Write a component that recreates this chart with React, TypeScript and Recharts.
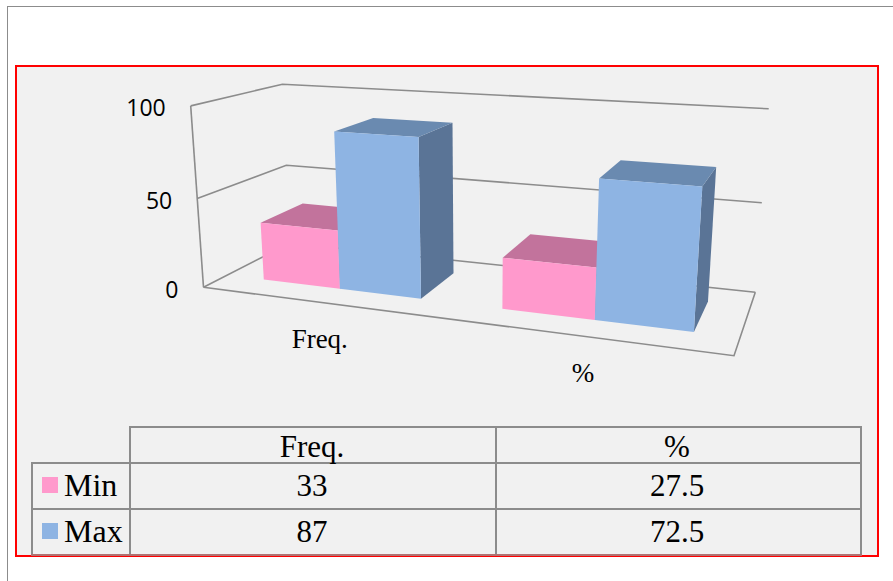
import { BarChart, Bar, XAxis, YAxis, ReferenceLine } from 'recharts';

const categories = ['Freq.', '%'];
const seriesNames = ['Min', 'Max'];
const minValues = [33, 27.5];
const maxValues = [87, 72.5];
const valueTicks = [0, 50, 100];

const tableData = categories.map((name, i) => ({ name, min: minValues[i], max: maxValues[i] }));

// flat plot rectangle handed to recharts; every mark is then projected into the 3D box
const PLOT = { left: 100, top: 100, width: 500, height: 200 };
const DEPTH_FRONT = 0.25;
const DEPTH_BACK = 0.75;
// bars sit a touch right of the exact band centres in the 3D box
const BAND_NUDGE = 0.005;

type Pt = [number, number];

// floor corners: front-left, front-right, back-right, back-left
const FLOOR: Pt[] = [[203.5, 287.3], [734, 355.7], [755.3, 292.3], [290, 243]];
// vertical vanishing point and how quickly height foreshortens towards it
const VANISH: Pt = [479, 4192];
const LIFT = -0.0444;
const ROLL = 5;

// unit square to quad homography, returned unnormalised so height can be mixed in
function quadMap(q: Pt[]) {
  const [[x0, y0], [x1, y1], [x2, y2], [x3, y3]] = q;
  const sx = x0 - x1 + x2 - x3;
  const sy = y0 - y1 + y2 - y3;
  const dx1 = x1 - x2;
  const dx2 = x3 - x2;
  const dy1 = y1 - y2;
  const dy2 = y3 - y2;
  const det = dx1 * dy2 - dx2 * dy1;
  const g = (sx * dy2 - dx2 * sy) / det;
  const h = (dx1 * sy - sx * dy1) / det;
  const a = x1 - x0 + g * x1;
  const b = x3 - x0 + h * x3;
  const d = y1 - y0 + g * y1;
  const e = y3 - y0 + h * y3;
  return (u: number, w: number) => [a * u + b * w + x0, d * u + e * w + y0, g * u + h * w + 1];
}

const floorAt = quadMap(FLOOR);

function project(u: number, w: number, v: number): Pt {
  const [nx, ny, k] = floorAt(u, w);
  const lift = v * LIFT;
  const den = k + lift;
  return [(nx + lift * VANISH[0]) / den, (ny + lift * VANISH[1]) / den + ROLL * u * v];
}

const toU = (x: number) => (x - PLOT.left) / PLOT.width;
const toV = (y: number) => (PLOT.top + PLOT.height - y) / PLOT.height;
const pts = (list: Pt[]) => list.map((p) => p.map((n) => n.toFixed(1)).join(',')).join(' ');

const WALL = '#8c8c8c';

function Box(props: any) {
  const { x, y, width, height, front, top, side } = props;
  const u0 = toU(x) + BAND_NUDGE;
  const u1 = toU(x + width) + BAND_NUDGE;
  const v = toV(y);
  const base = toV(y + height);
  const w0 = DEPTH_FRONT;
  const w1 = DEPTH_BACK;
  return (
    <g>
      <polygon
        points={pts([project(u1, w0, base), project(u1, w1, base), project(u1, w1, v), project(u1, w0, v)])}
        fill={side}
      />
      <polygon
        points={pts([project(u0, w0, v), project(u1, w0, v), project(u1, w1, v), project(u0, w1, v)])}
        fill={top}
      />
      <polygon
        points={pts([project(u0, w0, base), project(u1, w0, base), project(u1, w0, v), project(u0, w0, v)])}
        fill={front}
      />
    </g>
  );
}

// gridline running along the left and back walls at one value
function WallLine(props: any) {
  const v = toV(props.y1 ?? props.y);
  const isFloor = Math.abs(v) < 0.001;
  return (
    <g>
      <polyline
        points={pts([project(0, 0, v), project(0, 1, v), project(1, 1, v)])}
        fill="none"
        stroke={WALL}
        strokeWidth={1.6}
      />
      {isFloor && (
        <>
          <polyline
            points={pts([project(0, 0, 0), project(1, 0, 0), project(1, 1, 0)])}
            fill="none"
            stroke={WALL}
            strokeWidth={1.6}
          />
          <polyline points={pts([project(0, 0, 0), project(0, 0, 1)])} fill="none" stroke={WALL} strokeWidth={1.6} />
        </>
      )}
    </g>
  );
}

function ValueTick(props: any) {
  const { y, payload } = props;
  const [lx, ly] = project(0, 0, toV(y));
  return (
    <text x={lx - 25} y={ly + 10.5} textAnchor="end" fontFamily="Open Sans" fontSize={23} fill="#000">
      {payload.value}
    </text>
  );
}

function CategoryTick(props: any) {
  const { x, payload } = props;
  const [lx, ly] = project(toU(x), 0, 0);
  return (
    <text x={lx + 3} y={ly + 46} textAnchor="middle" fontFamily="Liberation Serif" fontSize={27} fill="#000">
      {payload.value}
    </text>
  );
}

const TABLE_X = [31.5, 130, 495.5, 861];
const TABLE_Y = [426.5, 463, 509, 555];
const swatches = ['#ff99cc', '#8eb4e3'];

function Cell({ cx, cy, text }: { cx: number; cy: number; text: string | number }) {
  return (
    <div
      style={{
        position: 'absolute',
        left: cx - 100,
        top: cy - 25,
        width: 200,
        height: 50,
        lineHeight: '50px',
        textAlign: 'center',
        fontFamily: 'Liberation Serif',
        fontSize: 31,
        color: '#000',
      }}
    >
      {text}
    </div>
  );
}

function hLine(y: number, x0: number, x1: number, color = WALL) {
  return (
    <div
      key={`h${y}`}
      style={{ position: 'absolute', left: x0 - 1, top: y - 1, width: x1 - x0 + 2, height: 2, background: color }}
    />
  );
}

function vLine(x: number, y0: number, y1: number, w = 2) {
  return (
    <div
      key={`v${x}`}
      style={{ position: 'absolute', left: x - w / 2, top: y0 - 1, width: w, height: y1 - y0 + 2, background: WALL }}
    />
  );
}

function DataTable() {
  const rows = [minValues, maxValues];
  const colCenters = [312, 677];
  const rowCenters = [486, 532];
  return (
    <>
      {hLine(TABLE_Y[0], TABLE_X[1], TABLE_X[3])}
      {hLine(TABLE_Y[1], TABLE_X[0], TABLE_X[3])}
      {hLine(TABLE_Y[2], TABLE_X[0], TABLE_X[3])}
      {vLine(TABLE_X[0], TABLE_Y[1], TABLE_Y[3])}
      {vLine(TABLE_X[1], TABLE_Y[0], TABLE_Y[3])}
      {vLine(TABLE_X[2], TABLE_Y[0], TABLE_Y[3])}
      {vLine(TABLE_X[3], TABLE_Y[0], TABLE_Y[3])}
      {hLine(TABLE_Y[3], TABLE_X[0], TABLE_X[3], '#b07272')}
      {categories.map((c, i) => (
        <Cell key={c} cx={colCenters[i]} cy={447} text={c} />
      ))}
      {rows.map((row, r) => (
        <div key={seriesNames[r]}>
          <div
            style={{
              position: 'absolute',
              left: 42,
              top: rowCenters[r] - 9.5,
              width: 16,
              height: 16,
              background: swatches[r],
            }}
          />
          <div
            style={{
              position: 'absolute',
              left: 64,
              top: rowCenters[r] - 26,
              height: 50,
              lineHeight: '50px',
              fontFamily: 'Liberation Serif',
              fontSize: 32,
              color: '#000',
            }}
          >
            {seriesNames[r]}
          </div>
          {row.map((val, i) => (
            <Cell key={i} cx={colCenters[i]} cy={rowCenters[r]} text={val} />
          ))}
        </div>
      ))}
    </>
  );
}

export default function App() {
  return (
    <div
      style={{
        position: 'absolute',
        left: 0,
        top: 0,
        width: 893,
        height: 581,
        overflow: 'hidden',
        background: '#fff',
      }}
    >
      {/* outer page frame runs off the right and bottom edges */}
      <div
        style={{
          position: 'absolute',
          left: 7,
          top: 6,
          width: 1000,
          height: 700,
          border: '1.5px solid #8c8c8c',
        }}
      />
      <div
        style={{
          position: 'absolute',
          left: 15,
          top: 65,
          width: 860,
          height: 488,
          border: '2px solid #ff0000',
          background: '#f1f1f1',
        }}
      />
      <div style={{ position: 'absolute', left: 0, top: 0 }}>
        <BarChart
          width={893}
          height={581}
          data={tableData}
          margin={{ top: 100, right: 293, bottom: 251, left: 0 }}
          barCategoryGap="16%"
          barGap={0}
        >
          <XAxis
            dataKey="name"
            axisLine={false}
            tickLine={false}
            height={30}
            interval={0}
            tick={<CategoryTick />}
          />
          <YAxis
            domain={[0, 100]}
            ticks={valueTicks}
            width={100}
            axisLine={false}
            tickLine={false}
            tick={<ValueTick />}
          />
          {valueTicks.map((t) => (
            <ReferenceLine key={t} y={t} shape={WallLine} zIndex={100} />
          ))}
          <Bar
            dataKey="min"
            name={seriesNames[0]}
            isAnimationActive={false}
            shape={(p: any) => <Box {...p} front="#ff99cc" top="#c2739c" side="#c2739c" />}
          />
          <Bar
            dataKey="max"
            name={seriesNames[1]}
            isAnimationActive={false}
            shape={(p: any) => <Box {...p} front="#8eb4e3" top="#6a8ab0" side="#5a7496" />}
          />
        </BarChart>
      </div>
      <DataTable />
    </div>
  );
}
